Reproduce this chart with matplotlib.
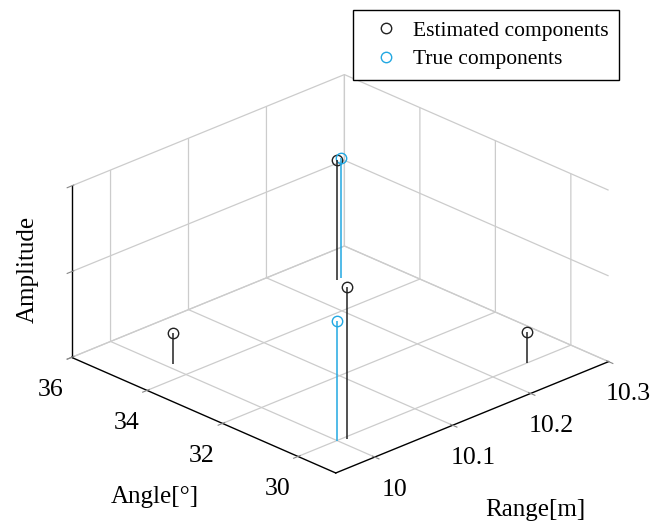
import matplotlib
matplotlib.use("Agg")
import matplotlib.pyplot as plt

plt.rcParams['font.family'] = ['Liberation Serif', 'DejaVu Serif']
plt.rcParams['grid.color'] = '#cccccc'
plt.rcParams['grid.linewidth'] = 0.9

# estimated components: range [m], angle [deg], amplitude
est_range = [10.008, 10.244, 10.009, 10.244]
est_angle = [34.5, 35.04, 29.91, 30.0]
est_amp = [0.18, 0.70, 0.89, 0.18]

# true components
true_range = [10.0, 10.25]
true_angle = [30.0, 35.05]
true_amp = [0.70, 0.70]

range_ticks = [10.0, 10.1, 10.2, 10.3]
range_labels = ['10', '10.1', '10.2', '10.3']
angle_ticks = [30, 32, 34, 36]
amp_ticks = [0, 0.5, 1]

black = '#222222'
blue = '#22a8e2'

fig = plt.figure(figsize=(6.62, 5.25), dpi=100)
ax = fig.add_axes([0.003, -0.035, 1.0, 1.0], projection='3d', proj_type='ortho')
ax.view_init(elev=25, azim=-134)
ax.set_box_aspect((377, 378, 188), zoom=1.053)

est = ax.stem(est_range, est_angle, est_amp, linefmt='-', markerfmt='o', basefmt=' ')
est.markerline.set_color(black)
est.markerline.set_markerfacecolor('none')
est.markerline.set_markersize(7.5)
est.markerline.set_markeredgewidth(1.0)
est.stemlines.set_color(black)
est.stemlines.set_linewidth(1.1)

tru = ax.stem(true_range, true_angle, true_amp, linefmt='-', markerfmt='o', basefmt=' ')
tru.markerline.set_color(blue)
tru.markerline.set_markerfacecolor('none')
tru.markerline.set_markersize(7.5)
tru.markerline.set_markeredgewidth(1.0)
tru.stemlines.set_color(blue)
tru.stemlines.set_linewidth(1.1)

ax.set_xlim(9.95, 10.3)
ax.set_ylim(29, 36)
ax.set_zlim(0, 1)
ax.set_xticks(range_ticks)
ax.set_xticklabels(range_labels)
ax.set_yticks(angle_ticks)
ax.set_zticks(amp_ticks)
ax.set_zticklabels([])

for axis in (ax.xaxis, ax.yaxis, ax.zaxis):
    axis.set_pane_color((1, 1, 1, 0))
    axis.pane.set_edgecolor((1, 1, 1, 0))
    axis.line.set_color('black')
    axis.line.set_linewidth(1.0)

ax.tick_params(axis='both', labelsize=18.5, pad=7, color='#888888')

# axis titles stay horizontal, so they are placed on the figure
fig.text(0.234, 0.053, 'Angle[°]', fontsize=18, ha='center', va='center')
fig.text(0.808, 0.029, 'Range[m]', fontsize=18, ha='center', va='center')
fig.text(0.042, 0.486, 'Amplitude', fontsize=18, ha='center', va='center', rotation=90)

fig.legend([est.markerline, tru.markerline], ['Estimated components', 'True components'],
           loc='upper right', bbox_to_anchor=(0.935, 0.981), fontsize=15.5,
           frameon=True, fancybox=False, edgecolor='black', framealpha=1,
           borderaxespad=0, handletextpad=0.25, borderpad=0.5, labelspacing=0.4)

fig.savefig('out.png', dpi=100)
